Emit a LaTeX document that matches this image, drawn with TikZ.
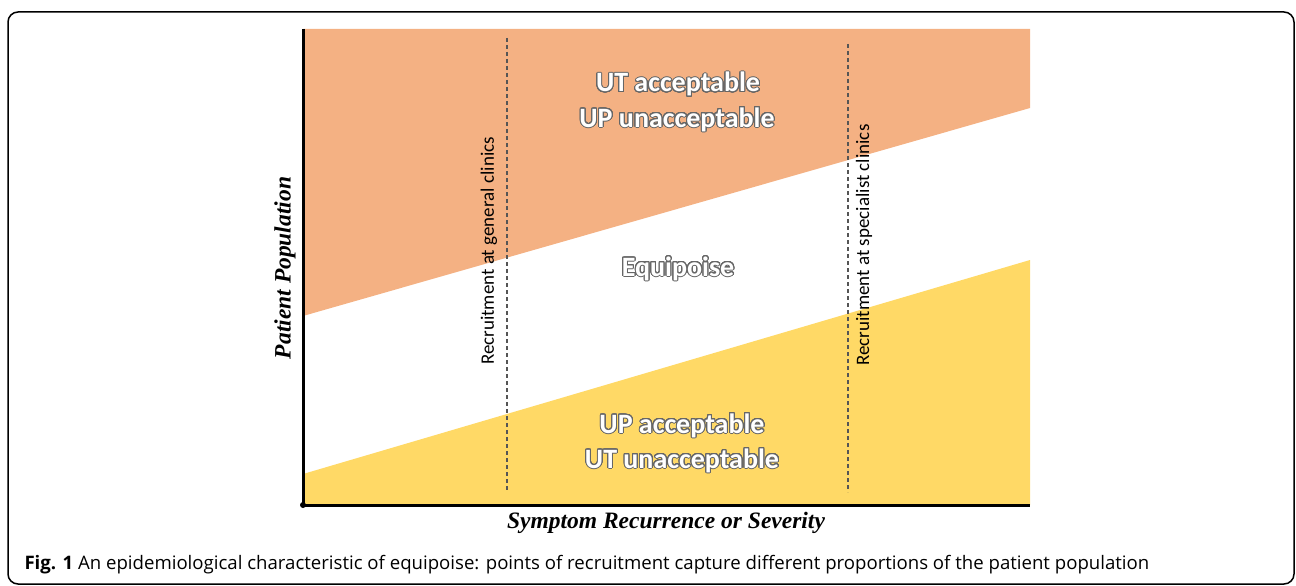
\documentclass[tikz,border=0pt]{standalone}
\usepackage{fontspec}
\setmainfont{Carlito}
\newfontfamily\capfont{Open Sans}
\newfontfamily\axisfont{Liberation Serif}
\usepackage{contour}
\contourlength{1pt}
\contournumber{32}
\definecolor{utorange}{HTML}{F4B183}
\definecolor{upyellow}{HTML}{FFD966}
\definecolor{rimgray}{HTML}{666666}
\definecolor{dashgray}{HTML}{555555}
\tikzset{
  zonetext/.style={font=\bfseries\fontsize{28}{32}\selectfont,text=white,anchor=base},
  recruitline/.style={dashgray,line width=1.1pt,dash pattern=on 4pt off 3pt},
  recruittext/.style={font=\fontsize{19}{22}\selectfont,rotate=90},
  axistext/.style={font=\axisfont\bfseries\itshape\fontsize{23.5}{27}\selectfont}
}
\newcommand{\rim}[1]{\contour{rimgray}{#1}}
\begin{document}
\begin{tikzpicture}[x=1pt,y=-1pt]
        \useasboundingbox(0,0)rectangle(1296,586);
        \draw[line width=1.5pt,rounded corners=10pt](8,12)rectangle(1294,584);
        % zones
        \fill[utorange](303,29)--(1030,29)--(1030,108)--(303,316)--cycle;
        \fill[upyellow](303,474)--(1030,260)--(1030,505)--(303,505)--cycle;
        % recruitment points
        \draw[recruitline](507,38)--(507,492);
        \draw[recruitline](848,44)--(848,492);
        \node[recruittext](general)at(489,251){Recruitment at general clinics};
        \node[recruittext](specialist)at(864,245){Recruitment at specialist clinics};
        % axes
        \draw[line width=3pt](303,29)--(303,505)--(1030,505);
        \fill(303,505)circle(3pt);
        \node[axistext,rotate=90](ylab)at(285,268){Patient Population};
        \node[axistext](xlab)at(666,523){Symptom Recurrence or Severity};
        % zone labels
        \node[zonetext](utok)at(678,92){\rim{UT acceptable}};
        \node[zonetext](upnot)at(677,127){\rim{UP unacceptable}};
        \node[zonetext](equi)at(678,276){\rim{Equipoise}};
        \node[zonetext](upok)at(682,433){\rim{UP acceptable}};
        \node[zonetext](utnot)at(682,468){\rim{UT unacceptable}};
        \node[anchor=base west,font=\capfont\fontsize{18.6}{22}\selectfont](caption)at(21,569){\textbf{Fig. 1} An epidemiological characteristic of equipoise: points of recruitment capture different proportions of the patient population};
\end{tikzpicture}
\end{document}
